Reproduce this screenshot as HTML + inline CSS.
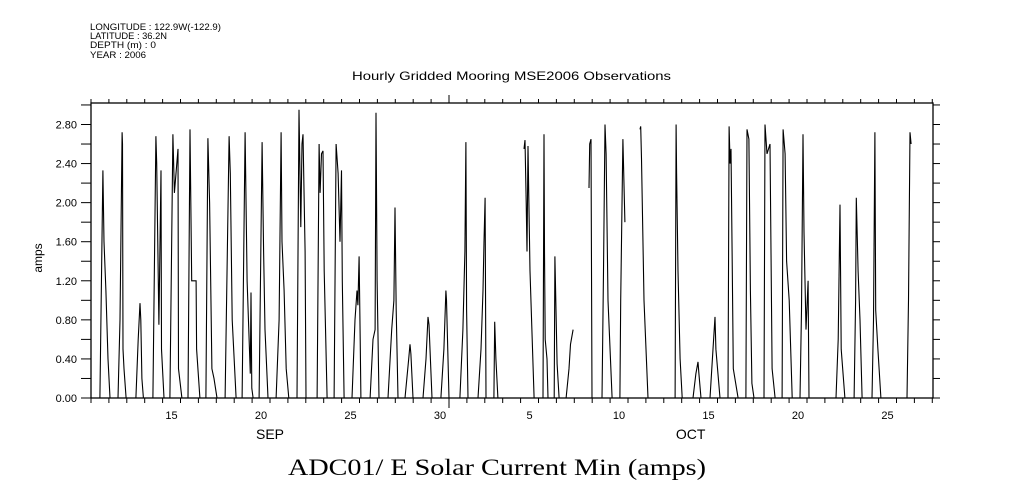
<!DOCTYPE html>
<html><head><meta charset="utf-8"><style>
html,body{margin:0;padding:0;background:#fff;}
svg{display:block;}
text{font-family:"Liberation Sans",sans-serif;fill:#000;}
</style></head><body>
<svg id="chart" width="1009" height="504" viewBox="0 0 1009 504" xmlns="http://www.w3.org/2000/svg">
<g font-size="9">
<text x="90" y="30" textLength="131" lengthAdjust="spacingAndGlyphs">LONGITUDE : 122.9W(-122.9)</text>
<text x="90" y="39" textLength="77" lengthAdjust="spacingAndGlyphs">LATITUDE : 36.2N</text>
<text x="90" y="48" textLength="66" lengthAdjust="spacingAndGlyphs">DEPTH (m) : 0</text>
<text x="90" y="58" textLength="56" lengthAdjust="spacingAndGlyphs">YEAR : 2006</text>
</g>
<text x="352" y="80" font-size="12" textLength="319" lengthAdjust="spacingAndGlyphs">Hourly Gridded Mooring MSE2006 Observations</text>
<text transform="translate(42,258) rotate(-90)" font-size="12" text-anchor="middle">amps</text>
<text x="288" y="475" font-size="23" textLength="418" lengthAdjust="spacingAndGlyphs" style="font-family:'Liberation Serif',serif">ADC01/ E Solar Current Min (amps)</text>
<g id="axes"></g>
<g id="series"></g>
</svg>
<script>
// Time in days: value d means Sep d 00:00 (d=31 -> Oct 1)
const eventStarts = [11.50,12.51,13.51,14.46,15.41,16.42,17.42,18.49,19.44,20.39,21.34,22.51,23.63,24.58,25.58,26.59,27.59,28.54,29.55,30.55,31.61,32.62,33.51,35.19,36.25,37.54,38.82,39.55,40.55,41.67,43.63,44.63,45.58,46.59,47.59,48.60,49.61,50.61,52.62,53.63,54.63,56.59];
// each event: [hourOffset, amps] pairs
const eventPoints = [
[[0,0],[4,2.33],[5.4,1.6],[8,1.1],[10.8,0.4],[13.5,0]],
[[0,0],[2.7,0.8],[5.4,2.72],[6,2.6],[6.7,0.5],[8,0.3],[10.8,0]],
[[0,0],[3,0.6],[5.4,0.97],[6.5,0.8],[8,0.2],[10,0]],
[[0,0],[4,2.68],[5,2.4],[8,0.75],[10.8,2.33],[11.5,0.5],[14.8,0]],
[[0,0],[4,2.7],[6,2.1],[10.8,2.55],[11.5,0.3],[16,0]],
[[0,0],[2.7,2.75],[5,1.2],[10.8,1.2],[11.5,0.5],[16,0]],
[[0,0],[2.7,2.66],[5,2.0],[8,0.3],[10.8,0.2],[14.8,0]],
[[0,0],[5.4,2.68],[7,2.3],[9.5,0.8],[14.8,0]],
[[0,0],[4,2.72],[6.7,1.2],[11,0.25],[12,1.08],[13,0.1],[14.8,0]],
[[0,0],[4,2.62],[6,1.5],[8,0.7],[12,0]],
[[0,0],[4,0.8],[6.7,2.72],[8,1.6],[10.8,1.1],[13.5,0.3],[17,0]],
[[0,0],[2.7,2.95],[5,1.75],[6.7,2.6],[8,2.7],[10.8,1.5],[12,0]],
[[0,0],[2.7,2.6],[4,2.1],[6,2.5],[8,2.53],[9.5,1.3],[13.5,0]],
[[0,0],[2.7,2.6],[5.4,2.3],[8,1.6],[10,2.33],[11,1.2],[13.5,0]],
[[0,0],[4,0.8],[6.7,1.1],[8,0.95],[9.5,1.45],[11,0.6],[12,0]],
[[0,0],[4,0.6],[6.7,0.7],[8,2.92],[9.5,1.2],[12,0]],
[[0,0],[5,0.7],[8,1.0],[9.5,1.95],[11,0.9],[13.5,0]],
[[0,0],[5,0.4],[6.7,0.55],[8,0.45],[10.8,0]],
[[0,0],[4,0.4],[6.7,0.83],[8,0.75],[12,0]],
[[0,0],[4,0.5],[6.7,1.1],[7.5,1.0],[10.8,0]],
[[0,0],[4,0.7],[6.7,1.5],[8,2.62],[9,0.9],[10.8,0]],
[[0,0],[4,0.5],[6.7,1.1],[8,1.6],[9.5,2.05],[10.8,0]],
[[0,0],[1,0.78],[2.7,0.4],[5.4,0]],
[[0,2.55],[1.3,2.64],[3,2.0],[4,1.5],[5.4,2.58],[7,1.8],[8,1.3],[13.5,0]],
[[0,0],[1.35,2.7],[2,1.5],[3,0.6],[5.4,0.4],[6.7,0],[15,0],[16,1.45],[19,0.35],[21.6,0]],
[[0,0],[4,0.3],[6,0.55],[9.5,0.7]],
[[0,2.15],[1,2.6],[2.7,2.65],[4,0]],
[[0,0],[2,1.3],[4,2.8],[5.4,2.5],[8,1.0],[13.5,0]],
[[0,0],[1,1.0],[4,2.65],[6.7,1.8]],
[[0,2.75],[1,2.78],[2,2.45],[5.4,1.0],[10.8,0]],
[[0,0],[1.35,2.8],[2,2.3],[4,1.3],[6.7,0.4],[9.5,0]],
[[0,0],[4,0.25],[6.7,0.37],[8,0.25],[10.8,0]],
[[0,0],[4,0.5],[6.7,0.83],[8,0.5],[13.5,0]],
[[0,0],[1.35,2.78],[2.7,2.4],[4,2.55],[5.4,1.5],[7,0.3],[13.5,0]],
[[0,0],[1.35,2.75],[4,2.65],[6,1.1],[8,0.15],[10.8,0]],
[[0,0],[1.35,2.8],[4,2.5],[8,2.6],[10.8,0.3],[14.8,0]],
[[0,0],[1.35,2.75],[4,2.5],[6,1.4],[9.5,1.0],[13.5,0]],
[[0,0],[2,0.9],[4,2.7],[5.4,1.7],[8,0.7],[10.8,1.2],[12,0]],
[[0,0],[3,0.6],[5.4,1.98],[7,0.5],[12,0]],
[[0,0],[2,1.0],[3,2.05],[5.4,1.3],[8,0.8],[10.8,0]],
[[0,0],[2,0.8],[4,2.72],[5,0.9],[8,0.5],[12,0]],
[[0,0],[2,1.0],[4,2.72],[5.4,2.6]]
];
const yTickValues = [0,0.4,0.8,1.2,1.6,2.0,2.4,2.8];
const yTickLabels = ["0.00","0.40","0.80","1.20","1.60","2.00","2.40","2.80"];
const xLabelDays = [15,20,25,30,35,40,45,50,55];
const xLabelText = ["15","20","25","30","5","10","15","20","25"];
const monthNames = ["SEP","OCT"];
const monthLabelDays = [21,44.5];

const L=91,R=933,T=103,B=398, D0=11, D1=58.04, V0=0, V1=3.02;
const xs = d => L + (d-D0)/(D1-D0)*(R-L);
const ys = v => B - (v-V0)/(V1-V0)*(B-T);
const NS="http://www.w3.org/2000/svg";
const axes=document.getElementById('axes'), series=document.getElementById('series');
function mk(tag,attrs,parent){const e=document.createElementNS(NS,tag);for(const k in attrs)e.setAttribute(k,attrs[k]);parent.appendChild(e);return e;}

const frame=mk('rect',{x:L,y:T,width:R-L,height:B-T,fill:'none',stroke:'#000','stroke-width':1.3},axes);



for(let d=11; d<=58; d++){
  const x=xs(d); const big=(d===31);
  const t1=mk('line',{x1:x,x2:x,y1:B,y2:B+(big?10:5),stroke:'#000','stroke-width':1},axes);
  
  
  const t2=mk('line',{x1:x,x2:x,y1:T,y2:T-(big?8:4),stroke:'#000','stroke-width':1},axes);
  
  
}
xLabelDays.forEach((d,i)=>{
  const t=mk('text',{x:xs(d+0.5),y:419,'font-size':11,'text-anchor':'middle'},axes);
  t.textContent=xLabelText[i];
  
  
});
monthNames.forEach((m,i)=>{
  const t=mk('text',{x:xs(monthLabelDays[i]),y:439,'font-size':14,'text-anchor':'middle'},axes);
  t.textContent=m;
  
  
});
for(let k=0;k<=15;k++){
  const v=k*0.2, y=ys(v);
  const a=mk('line',{x1:L-10,x2:L,y1:y,y2:y,stroke:'#000','stroke-width':1},axes);
  
  
  const b=mk('line',{x1:R,x2:R+7,y1:y,y2:y,stroke:'#000','stroke-width':1},axes);
  
  
}
yTickValues.forEach((v,i)=>{
  const t=mk('text',{x:77,y:ys(v)+4,'font-size':11,'text-anchor':'end'},axes);
  t.textContent=yTickLabels[i];
  
  
});
eventStarts.forEach((s,i)=>{
  const pts=eventPoints[i].map(p=>xs(s+p[0]/24).toFixed(1)+','+ys(p[1]).toFixed(1)).join(' ');
  const pl=mk('polyline',{points:pts,fill:'none',stroke:'#000','stroke-width':1.1},series);
  
  
});
</script>
</body></html>
